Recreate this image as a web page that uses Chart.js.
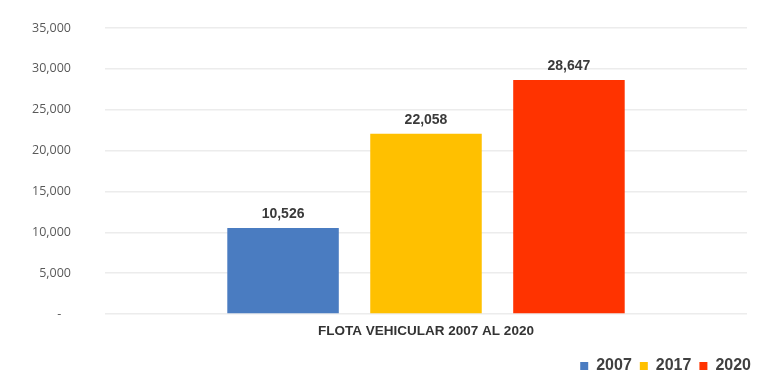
<!DOCTYPE html>
<html>
<head>
<meta charset="utf-8">
<script src="https://cdn.jsdelivr.net/npm/chart.js@4.4.1/dist/chart.umd.min.js"></script>
<style>
  html, body { margin: 0; padding: 0; background: #fff; }
  #wrap { width: 757px; height: 375px; overflow: hidden; position: relative; }
  #chartCanvas { display: block; }
</style>
</head>
<body>
<div id="wrap"><canvas id="chartCanvas" width="759" height="375"></canvas></div>
<script>
// Chart data
const categories = ['FLOTA VEHICULAR 2007 AL 2020'];
const seriesNames = ['2007', '2017', '2020'];
const seriesValues = [[10526], [22058], [28647]];
const seriesColors = ['#4a7cc1', '#ffc000', '#ff3300'];
const yTicks = [0, 5000, 10000, 15000, 20000, 25000, 30000, 35000];

// Draw the value above each bar
const valueLabels = {
    id: 'valueLabels',
    afterDatasetsDraw(chart) {
        const ctx = chart.ctx;
        ctx.save();
        ctx.font = 'bold 14px "Liberation Sans", Arial, sans-serif';
        ctx.fillStyle = '#3a3a3a';
        ctx.textAlign = 'center';
        ctx.textBaseline = 'bottom';
        chart.data.datasets.forEach((ds, i) => {
            chart.getDatasetMeta(i).data.forEach((bar, j) => {
                ctx.fillText(ds.data[j].toLocaleString('en-US'), bar.x, bar.y - 7);
            });
        });
        ctx.restore();
    }
};

function renderChart() {
    const ctx = document.getElementById('chartCanvas').getContext('2d');
    const config = {
        type: 'bar',
        data: {
            labels: categories,
            datasets: seriesNames.map((name, i) => ({
                label: name,
                data: seriesValues[i],
                backgroundColor: seriesColors[i],
                borderWidth: 0,
                barPercentage: 0.78,
                categoryPercentage: 0.668,
            })),
        },
        options: {
            responsive: false,
            animation: false,
            layout: { padding: { top: 28, left: 0, right: 0, bottom: -9 } },
            plugins: {
                tooltip: { enabled: false },
                legend: {
                    position: 'bottom',
                    align: 'end',
                    labels: {
                        boxWidth: 8,
                        boxHeight: 8,
                        padding: 8,
                        color: '#404040',
                        font: { family: '"Liberation Sans", Arial, sans-serif', size: 16, weight: 'bold' },
                    },
                },
            },
            scales: {
                x: {
                    afterFit: s => { s.height = 36; },
                    grid: { display: false },
                    border: { display: false },
                    ticks: {
                        padding: 1,
                        color: '#333',
                        font: { family: '"Liberation Sans", Arial, sans-serif', size: 13.5, weight: 'bold' },
                    },
                },
                y: {
                    min: 0,
                    max: 35000,
                    afterFit: s => { s.width = 105; },
                    afterBuildTicks: s => { s.ticks = yTicks.map(v => ({ value: v })); },
                    grid: { color: '#ececec', lineWidth: 1.5, drawTicks: true, tickLength: 30, tickColor: 'rgba(0,0,0,0)' },
                    border: { display: false },
                    ticks: {
                        padding: 4,
                        color: '#595959',
                        font: { family: '"Open Sans", sans-serif', size: 12.5 },
                        callback: v => v === 0 ? '-   ' : v.toLocaleString('en-US'),
                    },
                },
                y2: {
                    position: 'right',
                    afterFit: s => { s.width = 12; },
                    grid: { display: false },
                    border: { display: false },
                    ticks: { display: false },
                },
            },
        },
        plugins: [valueLabels],
    };
    new Chart(ctx, config);
}

document.addEventListener('DOMContentLoaded', renderChart);
</script>
</body>
</html>
